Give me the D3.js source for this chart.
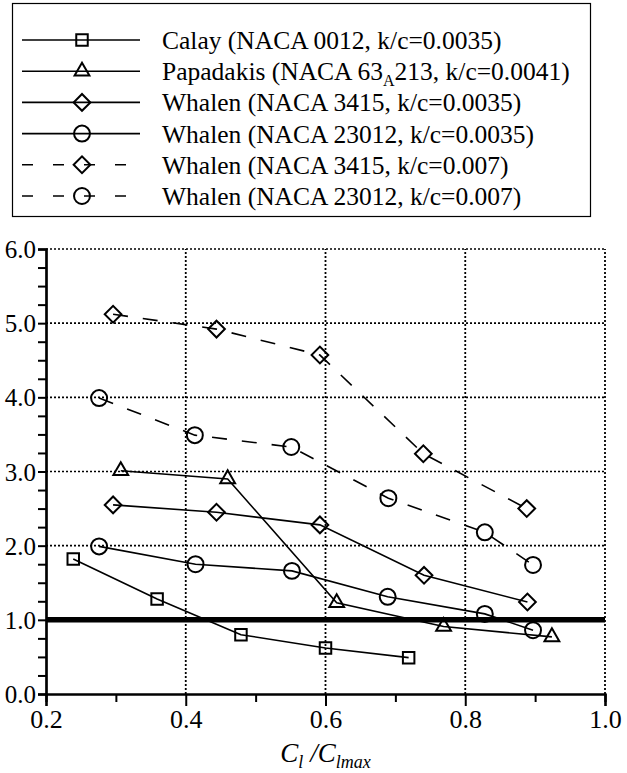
<!DOCTYPE html>
<html>
<head>
<meta charset="utf-8">
<script src="https://cdn.jsdelivr.net/npm/d3@7"></script>
<style>
  body { margin: 0; background: #fff; }
  svg { display: block; }
  text { font-family: "Liberation Serif", "Times New Roman", serif; fill: #000; }
</style>
</head>
<body>
<div id="chart"></div>
<script>
//******************************************************//
//                    DATA
//******************************************************//

  var seriesNames = ["Calay (NACA 0012, k/c=0.0035)",
                     "Papadakis (NACA 63|A|213, k/c=0.0041)",
                     "Whalen (NACA 3415, k/c=0.0035)",
                     "Whalen (NACA 23012, k/c=0.0035)",
                     "Whalen (NACA 3415, k/c=0.007)",
                     "Whalen (NACA 23012, k/c=0.007)"];
  var seriesSymbols = ["square", "triangle", "diamond", "circle", "diamond", "circle"];
  var seriesDashed = [false, false, false, false, true, true];

  var calayX = [0.239, 0.359, 0.479, 0.600, 0.719];
  var calayY = [1.82, 1.28, 0.80, 0.62, 0.49];

  var papadakisX = [0.307, 0.460, 0.616, 0.769, 0.924];
  var papadakisY = [3.01, 2.90, 1.23, 0.91, 0.77];

  var whalen3415X = [0.296, 0.444, 0.592, 0.741, 0.889];
  var whalen3415Y = [2.55, 2.45, 2.28, 1.60, 1.24];

  var whalen23012X = [0.276, 0.414, 0.552, 0.689, 0.828, 0.897];
  var whalen23012Y = [1.99, 1.75, 1.66, 1.31, 1.08, 0.86];

  var whalen3415roughX = [0.296, 0.444, 0.592, 0.740, 0.888];
  var whalen3415roughY = [5.12, 4.92, 4.57, 3.24, 2.50];

  var whalen23012roughX = [0.276, 0.413, 0.551, 0.690, 0.828, 0.897];
  var whalen23012roughY = [3.99, 3.49, 3.33, 2.64, 2.18, 1.74];

  var seriesX = [calayX, papadakisX, whalen3415X, whalen23012X, whalen3415roughX, whalen23012roughX];
  var seriesY = [calayY, papadakisY, whalen3415Y, whalen23012Y, whalen3415roughY, whalen23012roughY];

  var xMajorTicks = [0.2, 0.4, 0.6, 0.8, 1.0];
  var xMinorTicks = [0.3, 0.5, 0.7, 0.9];
  var yMajorTicks = [0, 1, 2, 3, 4, 5, 6];
  var yMinorTicks = [0.25, 0.5, 0.75, 1.25, 1.5, 1.75, 2.25, 2.5, 2.75, 3.25, 3.5, 3.75,
                     4.25, 4.5, 4.75, 5.25, 5.5, 5.75];
  var referenceLevel = 1.0;

//******************************************************//
//                    SETUP
//******************************************************//

  var width = 627,
      height = 773;

  var svg = d3.select("#chart")
              .append("svg")
              .attr("width", width)
              .attr("height", height);

  var x = d3.scaleLinear().domain([0.2, 1.0]).range([46, 605]);
  var y = d3.scaleLinear().domain([0, 6]).range([694, 249]);

  // marker shapes
  function symbolPath(name) {
    if (name == "square") return d3.symbol().type(d3.symbolSquare).size(132)();
    if (name == "triangle") return d3.symbol().type(d3.symbolTriangle).size(95)();
    if (name == "diamond") return d3.symbol().type(d3.symbolSquare).size(140)();
    return d3.symbol().type(d3.symbolCircle).size(200)();
  }
  function symbolRotate(name) {
    return name == "diamond" ? " rotate(45)" : "";
  }

//******************************************************//
//                    GRID
//******************************************************//

  svg.selectAll("hgrid")
     .data(yMajorTicks.filter(function(d){ return d > 0; }))
     .enter()
     .append("line")
     .attr("x1", x(0.2)).attr("x2", x(1.0))
     .attr("y1", function(d){ return y(d); })
     .attr("y2", function(d){ return y(d); })
     .attr("stroke", "#000")
     .attr("stroke-width", 1.6)
     .attr("stroke-dasharray", "2,2");

  svg.selectAll("vgrid")
     .data(xMajorTicks.filter(function(d){ return d > 0.2; }))
     .enter()
     .append("line")
     .attr("y1", y(0)).attr("y2", y(6))
     .attr("x1", function(d){ return x(d); })
     .attr("x2", function(d){ return x(d); })
     .attr("stroke", "#000")
     .attr("stroke-width", 1.8)
     .attr("stroke-dasharray", "2,2");

  // thick reference line at 1.0
  svg.append("line")
     .attr("x1", x(0.2)).attr("x2", x(1.0))
     .attr("y1", y(referenceLevel)).attr("y2", y(referenceLevel))
     .attr("stroke", "#000")
     .attr("stroke-width", 5.5);

//******************************************************//
//                    SERIES
//******************************************************//

  var line = d3.line()
               .x(function(d){ return x(d[0]); })
               .y(function(d){ return y(d[1]); });

  seriesX.forEach(function(xs, i) {
    var pts = xs.map(function(v, j){ return [v, seriesY[i][j]]; });

    svg.append("path")
       .attr("d", line(pts))
       .attr("fill", "none")
       .attr("stroke", "#000")
       .attr("stroke-width", 1.6)
       .attr("stroke-dasharray", seriesDashed[i] ? "15,15" : null);

    svg.selectAll("marks" + i)
       .data(pts)
       .enter()
       .append("path")
       .attr("d", symbolPath(seriesSymbols[i]))
       .attr("transform", function(d){
         return "translate(" + x(d[0]) + "," + y(d[1]) + ")" + symbolRotate(seriesSymbols[i]);
       })
       .attr("fill", "none")
       .attr("stroke", "#000")
       .attr("stroke-width", 2);
  });

//******************************************************//
//                    AXES
//******************************************************//

  var yAxisMinor = svg.append("g")
     .attr("transform", "translate(" + x(0.2) + ",0)")
     .call(d3.axisLeft(y).tickValues(yMinorTicks).tickSize(8).tickFormat(""));

  var yAxis = svg.append("g")
     .attr("transform", "translate(" + x(0.2) + ",0)")
     .call(d3.axisLeft(y).tickValues(yMajorTicks).tickSize(8).tickPadding(2)
             .tickFormat(d3.format(".1f")));

  var xAxisMinor = svg.append("g")
     .attr("transform", "translate(0," + y(0) + ")")
     .call(d3.axisBottom(x).tickValues(xMinorTicks).tickSize(8).tickFormat(""));

  var xAxis = svg.append("g")
     .attr("transform", "translate(0," + y(0) + ")")
     .call(d3.axisBottom(x).tickValues(xMajorTicks).tickSize(12).tickPadding(4)
             .tickFormat(d3.format(".1f")));

  [yAxisMinor, yAxis, xAxisMinor, xAxis].forEach(function(g) {
    g.selectAll(".domain").attr("stroke", "#000").attr("stroke-width", 2.2);
    g.selectAll(".tick line").attr("stroke", "#000").attr("stroke-width", 2);
  });
  yAxis.selectAll(".tick text")
       .style("font-family", "Liberation Serif")
       .style("font-size", "25px")
       .attr("dy", "0.34em");
  xAxis.selectAll(".tick text")
       .style("font-family", "Liberation Serif")
       .style("font-size", "26px");

  // x axis title  C_l / C_lmax
  var title = svg.append("text")
     .attr("x", x(0.6))
     .attr("y", 762)
     .attr("text-anchor", "middle")
     .style("font-size", "27px")
     .style("font-style", "italic");
  title.append("tspan").text("C");
  title.append("tspan").attr("dy", 6).style("font-size", "18px").text("l");
  title.append("tspan").attr("dy", -6).text(" /C");
  title.append("tspan").attr("dy", 6).style("font-size", "18px").text("lmax");

//******************************************************//
//                    LEGEND
//******************************************************//

  svg.append("rect")
     .attr("x", 12.5).attr("y", 3.5)
     .attr("width", 578).attr("height", 213)
     .attr("fill", "none")
     .attr("stroke", "#000")
     .attr("stroke-width", 1.2);

  seriesNames.forEach(function(name, i) {
    var ry = 40 + i * 31.2;

    svg.append("line")
       .attr("x1", 22).attr("x2", 140)
       .attr("y1", ry).attr("y2", ry)
       .attr("stroke", "#000")
       .attr("stroke-width", 1.6)
       .attr("stroke-dasharray", seriesDashed[i] ? "11,20" : null);

    svg.append("path")
       .attr("d", symbolPath(seriesSymbols[i]))
       .attr("transform", "translate(82," + ry + ")" + symbolRotate(seriesSymbols[i]))
       .attr("fill", "none")
       .attr("stroke", "#000")
       .attr("stroke-width", 2);

    var label = svg.append("text")
       .attr("x", 162)
       .attr("y", ry + 9)
       .style("font-size", "25.5px");
    var parts = name.split("|");
    label.append("tspan").text(parts[0]);
    if (parts.length > 1) {
      label.append("tspan").attr("dy", 6).style("font-size", "16px").text(parts[1]);
      label.append("tspan").attr("dy", -6).text(parts[2]);
    }
  });
</script>
</body>
</html>
